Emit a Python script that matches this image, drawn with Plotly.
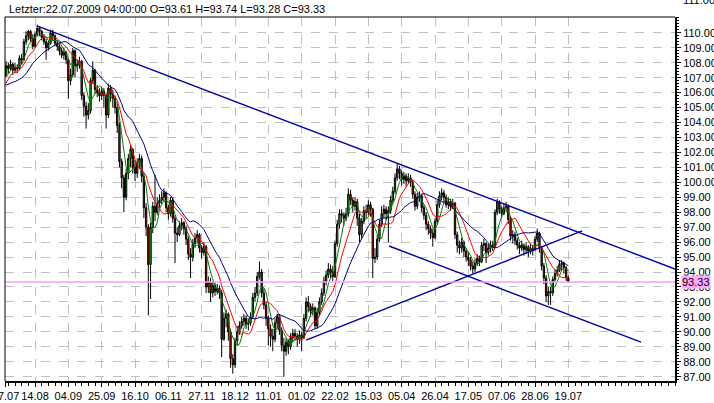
import plotly.graph_objects as go
import pandas as pd

# ---------------- data (USD/JPY daily, bar index based) ----------------
first_index = 2

# closes for bars 2..255
close = [
    107.8, 107.6, 107.9, 107.5, 107.7, 107.6, 108.3, 108.2, 109.4, 109.8, 110.1, 109.6, 109.1, 109.9,
    110.3, 110.1, 109.7, 109.4, 109.0, 109.3, 110.0, 109.8, 109.3, 109.1, 108.8, 108.5, 108.7, 108.2,
    106.8, 107.2, 108.8, 107.8, 107.9, 108.1, 105.8, 105.1, 104.5, 104.8, 106.8, 107.5, 106.2, 106.0, 105.8, 106.1,
    105.8, 104.5, 106.3, 105.9, 105.6, 105.0, 103.8, 101.4, 100.3, 99.0, 100.6, 101.6, 102.2, 101.0, 100.6, 101.3, 101.6, 100.4,
    98.3, 97.0, 94.5, 97.0, 98.4, 98.0, 98.6, 98.8, 99.0, 99.3, 98.3, 97.9, 98.8, 97.6, 96.6, 96.5,
    97.1, 97.3, 96.9, 96.2, 95.2, 95.0, 95.9, 96.3, 96.5, 95.6, 95.3, 95.7, 93.0, 93.3, 92.6, 93.1, 92.7, 92.9, 92.6,
    89.5, 90.9, 91.2, 90.0, 88.2, 87.8, 89.4, 90.0, 90.4, 90.7, 90.9, 90.5, 90.6, 91.0, 92.3, 92.6, 93.7, 94.0,
    92.6, 91.8, 90.9, 90.2, 89.7, 89.5, 90.6, 91.0, 90.1, 89.1, 88.7, 89.3, 89.0, 89.6, 89.9, 89.7, 89.5, 89.8, 89.6,
    90.9, 92.0, 91.7, 91.4, 91.6, 90.4, 91.3, 92.0, 92.6, 93.4, 93.8, 94.2, 94.0, 93.7,
    95.9, 97.2, 97.9, 97.8, 97.6, 97.9, 99.2, 98.8, 98.4, 98.7, 97.6, 96.5, 97.4, 98.1, 98.0, 98.5, 98.2, 94.9,
    95.0, 96.2, 97.2, 97.9, 98.2, 97.9, 98.1, 98.8, 99.4, 100.3, 100.9, 100.6, 100.2, 100.4, 100.1, 100.3, 100.0,
    99.2, 98.4, 99.0, 99.1, 98.3, 97.8, 97.2, 96.9, 96.6, 96.3, 97.4, 98.5, 99.1, 99.3, 99.0, 98.5, 98.7, 98.4, 98.6,
    96.5, 95.8, 95.6, 96.0, 95.4, 95.0, 94.8, 94.4, 94.2, 94.6, 94.9, 94.7, 95.8, 95.9, 95.3, 95.6, 95.8, 95.7,
    98.0, 98.7, 98.2, 97.9, 98.3, 98.4, 97.5, 96.4, 96.5, 96.1, 95.8, 95.6, 95.8, 95.5, 95.7, 95.4, 95.6, 95.5,
    96.2, 96.6, 95.6, 94.4, 93.6, 92.4, 92.7, 92.6, 93.5, 93.9, 94.1, 94.5, 94.6, 94.3, 93.61, 93.33,
]

high = [
    108.1, 108.0, 108.2, 108.0, 108.0, 107.9, 108.5, 108.6, 109.6, 110.1, 110.2, 110.2, 109.9, 110.1,
    110.55, 110.4, 110.2, 109.9, 109.6, 109.5, 110.2, 110.2, 109.9, 109.5, 109.3, 109.0, 109.0, 108.8,
    108.3, 107.6, 109.0, 108.9, 108.2, 108.4, 108.2, 106.0, 105.4, 105.3, 107.0, 108.1, 107.6, 106.5, 106.3, 106.4,
    106.3, 106.0, 106.6, 106.5, 106.2, 105.8, 105.2, 104.0, 101.6, 100.5, 100.9, 101.9, 102.5, 102.3, 101.5, 101.6, 101.9, 101.8,
    100.6, 98.6, 97.2, 97.3, 98.7, 100.5, 99.0, 99.2, 99.4, 99.6, 99.4, 98.5, 99.0, 99.0, 97.8, 97.0,
    97.4, 97.6, 97.4, 97.1, 96.4, 95.6, 96.2, 96.6, 96.8, 96.6, 95.8, 96.0, 95.8, 93.7, 93.6, 93.4, 93.3, 93.2, 93.1,
    92.8, 91.3, 91.5, 91.3, 90.2, 88.5, 89.6, 90.4, 90.7, 91.0, 91.2, 91.1, 90.9, 91.3, 92.6, 93.0, 94.0, 94.7,
    94.2, 92.9, 92.0, 91.1, 90.5, 90.2, 90.9, 91.2, 91.2, 90.3, 89.6, 89.6, 89.5, 89.9, 90.2, 90.2, 89.9, 90.1, 90.0,
    91.2, 92.3, 92.4, 91.9, 91.9, 91.7, 91.6, 92.3, 92.9, 93.7, 94.1, 94.6, 94.5, 94.4,
    96.1, 97.5, 98.2, 98.2, 98.0, 98.3, 99.6, 99.5, 99.0, 99.0, 98.9, 97.9, 97.6, 98.4, 98.5, 98.8, 98.7, 98.3,
    95.6, 96.5, 97.5, 98.4, 98.5, 98.4, 98.4, 99.1, 99.7, 100.6, 101.3, 101.1, 100.8, 100.7, 100.6, 100.6, 100.5,
    100.2, 99.4, 99.3, 99.4, 99.2, 98.5, 98.0, 97.4, 97.1, 96.9, 97.6, 98.8, 99.4, 99.6, 99.5, 99.2, 99.0, 98.9, 98.9,
    98.7, 96.7, 96.1, 96.3, 96.1, 95.6, 95.3, 95.0, 94.7, 94.9, 95.2, 95.1, 96.0, 96.2, 96.0, 95.9, 96.1, 96.1,
    98.2, 98.9, 98.8, 98.4, 98.6, 98.7, 98.5, 97.7, 96.8, 96.7, 96.3, 96.0, 96.1, 95.9, 96.0, 95.8, 95.9, 95.8,
    96.4, 96.9, 96.7, 95.7, 94.6, 93.8, 93.0, 93.0, 93.7, 94.2, 94.4, 94.8, 94.8, 94.7, 94.4, 93.74,
]

low = [
    107.4, 107.3, 107.5, 107.2, 107.3, 107.3, 107.5, 107.9, 108.1, 109.2, 109.5, 109.4, 108.9, 109.0,
    109.8, 109.8, 109.5, 109.2, 108.2, 108.8, 109.2, 109.5, 109.1, 108.8, 108.5, 108.3, 108.2, 107.9,
    105.6, 106.5, 107.0, 107.0, 107.4, 107.6, 105.5, 104.4, 103.6, 104.2, 104.6, 106.6, 105.9, 105.7, 105.4, 105.5,
    105.0, 103.6, 104.3, 105.4, 105.0, 104.6, 103.3, 101.0, 99.6, 98.0, 98.8, 100.2, 101.0, 100.6, 100.1, 100.3, 100.9, 100.0,
    97.6, 96.4, 91.1, 92.2, 96.6, 97.4, 97.8, 98.3, 98.5, 98.7, 98.0, 97.5, 97.7, 97.3, 94.6, 96.0,
    96.4, 96.8, 96.5, 95.8, 94.8, 93.6, 94.7, 95.6, 95.9, 95.3, 94.9, 95.1, 92.6, 92.6, 92.0, 92.3, 92.4, 92.5, 92.2,
    88.3, 89.4, 90.3, 89.4, 87.6, 87.2, 87.6, 89.1, 89.8, 90.2, 90.4, 90.2, 90.1, 90.4, 90.9, 92.0, 92.4, 93.5,
    92.3, 91.5, 90.4, 89.1, 89.0, 88.7, 89.3, 90.2, 89.8, 88.7, 87.0, 88.4, 88.5, 88.8, 89.3, 89.4, 89.0, 89.2, 88.7,
    89.5, 90.7, 91.3, 91.0, 91.1, 90.2, 90.2, 91.1, 91.8, 92.4, 93.1, 93.6, 93.6, 93.4,
    93.6, 95.7, 96.9, 97.3, 97.1, 97.4, 97.7, 98.5, 98.0, 98.1, 97.1, 96.0, 96.2, 97.2, 97.6, 97.8, 97.7, 93.6,
    94.6, 94.8, 96.0, 97.0, 97.6, 97.5, 96.0, 97.9, 98.6, 99.2, 100.1, 100.2, 99.8, 99.9, 99.7, 99.9, 99.7,
    98.9, 98.1, 98.2, 98.7, 98.0, 97.5, 96.8, 96.5, 96.2, 95.7, 96.2, 97.2, 98.3, 98.8, 98.7, 98.3, 98.2, 98.1, 98.2,
    96.2, 95.3, 95.2, 95.3, 95.0, 94.7, 94.4, 94.1, 93.9, 94.0, 94.4, 94.4, 94.6, 95.4, 94.6, 95.1, 95.3, 95.4,
    95.6, 97.8, 97.9, 97.6, 97.8, 98.0, 97.2, 96.1, 95.9, 95.8, 95.5, 95.2, 95.4, 95.1, 95.2, 95.0, 95.2, 95.1,
    95.4, 96.0, 95.3, 94.1, 93.2, 92.0, 91.8, 91.8, 92.4, 93.3, 93.7, 94.0, 94.1, 93.9, 93.4, 93.28,
]

# closes before the visible window (bars -17..1), used only to seed the moving averages
pre_close = [106.0, 106.3, 106.8, 106.9, 106.5, 106.2, 106.6, 106.9, 106.3, 105.5,
             104.6, 105.2, 106.3, 107.0, 107.4, 107.0, 106.6, 107.0, 107.1]

ma_periods = [5, 10, 20]
ma_colors = ["#008000", "#FF0000", "#000080"]

tick_bars = [1.75, 15, 30, 45, 60, 75, 90, 105, 120, 135, 150, 165, 180, 195, 210, 225, 240, 255]
tick_text = ["17.07", "14.08", "04.09", "25.09", "16.10", "06.11", "27.11", "18.12", "11.01",
             "01.02", "22.02", "15.03", "05.04", "26.04", "17.05", "07.06", "28.06", "19.07"]
price_ticks = list(range(87, 111))

last_price = 93.33
title_text = "Letzter:22.07.2009 04:00:00 O=93.61 H=93.74 L=93.28 C=93.33"

# hand-drawn trend lines (bar index, price)
trend_upper_x, trend_upper_y = [15.9, 303.0], [110.46, 94.2]
trend_lower_x, trend_lower_y = [174.3, 287.7], [95.74, 89.31]
trend_rise_x, trend_rise_y = [137.0, 261.2], [89.45, 96.75]

# ---------------- build ----------------
n = len(close)
assert len(high) == n and len(low) == n, (n, len(high), len(low))
bars = list(range(first_index, first_index + n))
opens = [pre_close[-1]] + close[:-1]
hi = [max(h, o, c) for h, o, c in zip(high, opens, close)]
lo = [min(l, o, c) for l, o, c in zip(low, opens, close)]

all_close = pd.Series(pre_close + close,
                      index=range(first_index - len(pre_close), first_index + n))

FONT = "Liberation Sans, Arial, sans-serif"
fig = go.Figure()

fig.add_trace(go.Candlestick(
    x=bars, open=opens, high=hi, low=lo, close=close,
    increasing=dict(fillcolor="#00FF00", line=dict(color="black", width=1)),
    decreasing=dict(fillcolor="#FF0000", line=dict(color="black", width=1)),
    whiskerwidth=0, hoverinfo="skip", showlegend=False,
))

for p, col in zip(ma_periods, ma_colors):
    ma = all_close.rolling(p).mean().dropna()
    fig.add_trace(go.Scatter(x=list(ma.index), y=list(ma.values), mode="lines",
                             line=dict(color=col, width=1), hoverinfo="skip", showlegend=False))

for tx, ty in [(trend_upper_x, trend_upper_y), (trend_lower_x, trend_lower_y), (trend_rise_x, trend_rise_y)]:
    fig.add_trace(go.Scatter(x=tx, y=ty, mode="lines", line=dict(color="#0000A8", width=1.4),
                             hoverinfo="skip", showlegend=False))

fig.update_layout(
    width=714, height=403,
    margin=dict(l=5, r=39, t=17, b=22, autoexpand=False),
    paper_bgcolor="white", plot_bgcolor="white",
    font=dict(family=FONT, size=11, color="black"),
    showlegend=False,
    boxgap=0.15,
    xaxis=dict(
        range=[1.5, 303], tickmode="array", tickvals=tick_bars, ticktext=tick_text,
        tickangle=0,
        showgrid=True, gridcolor="#C0C0C0", griddash="dash", gridwidth=1,
        ticks="outside", ticklen=4, tickcolor="black", automargin=False,
        ticklabeloverflow="allow",
        showline=True, linecolor="black", linewidth=2, zeroline=False,
        rangeslider=dict(visible=False), tickfont=dict(size=11, family=FONT),
        minor=dict(tickmode="linear", tick0=0, dtick=3, ticks="outside", ticklen=3,
                   tickcolor="black", showgrid=False),
    ),
    yaxis=dict(
        side="right", range=[86.71, 111.06], tickmode="array", tickvals=price_ticks,
        tickformat=".2f", showgrid=True, gridcolor="#C0C0C0", griddash="dash", gridwidth=1,
        ticks="outside", ticklen=4, tickcolor="black", automargin=False,
        ticklabeloverflow="allow",
        showline=True, linecolor="black", linewidth=2, zeroline=False,
        tickfont=dict(size=11, family=FONT),
        minor=dict(tickmode="linear", tick0=0, dtick=0.2, ticks="outside", ticklen=2,
                   tickcolor="black", showgrid=False),
    ),
    shapes=[
        dict(type="line", xref="paper", x0=0, x1=1, yref="y", y0=last_price, y1=last_price,
             line=dict(color="#F4A0F4", width=1.5), layer="above"),
        dict(type="line", xref="paper", x0=0, x1=0, yref="paper", y0=0, y1=1,
             line=dict(color="black", width=1)),
        dict(type="line", xref="paper", x0=0, x1=1, yref="paper", y0=1, y1=1,
             line=dict(color="black", width=1)),
    ],
    annotations=[
        dict(text=title_text, xref="paper", yref="paper", x=0, y=1, xanchor="left",
             yanchor="middle", xshift=2, yshift=8, showarrow=False,
             font=dict(size=11, family=FONT, color="black")),
        dict(text=f"{last_price:.2f}", xref="paper", yref="y", x=1, y=last_price,
             xanchor="left", yanchor="middle", xshift=6, showarrow=False,
             bgcolor="#FFA8FF", borderpad=0, font=dict(size=11, family=FONT, color="black")),
        dict(text="111.00", xref="paper", yref="paper", x=1, y=1, xanchor="left",
             yanchor="middle", xshift=6, yshift=17, showarrow=False,
             font=dict(size=11, family=FONT, color="black")),
    ],
)

fig.write_html(
    "out.html",
    config={"displayModeBar": False, "staticPlot": True},
    post_script="document.body.style.margin='0';document.body.style.padding='0';"
                "document.documentElement.style.overflow='hidden';",
)
